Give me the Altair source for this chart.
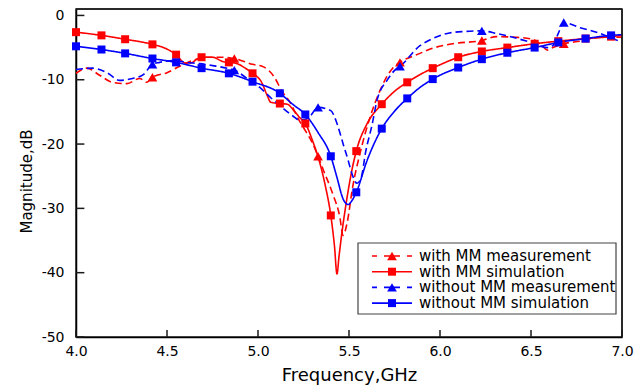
import altair as alt
import pandas as pd

SERIES = ["with MM measurement", "with MM simulation",
          "without MM measurement", "without MM simulation"]
KIND = ["meas", "sim", "meas", "sim"]
COLORS = ["#ff0000", "#ff0000", "#0000ff", "#0000ff"]
DASHES = [[7, 4], [1, 0], [7, 4], [1, 0]]

X_TICKS = [4.0, 4.5, 5.0, 5.5, 6.0, 6.5, 7.0]
Y_TICKS = [-50, -40, -30, -20, -10, 0]
X_RANGE = [4, 7]
Y_RANGE = [-50, 1]
X_TICK_LEN = 1.1    # dB  (inward tick length on the frequency axis)
Y_TICK_LEN = 0.046  # GHz (inward tick length on the magnitude axis)

# ---- traced curves (frequency GHz, magnitude dB) ----
wm_meas_x = [4.00, 4.06, 4.13, 4.20, 4.28, 4.35, 4.39, 4.42, 4.50, 4.57, 4.64, 4.72, 4.79, 4.87,
             4.97, 5.03, 5.09, 5.13, 5.18, 5.22, 5.26, 5.30, 5.33, 5.36, 5.41, 5.45, 5.467, 5.49,
             5.52, 5.56, 5.615, 5.67, 5.74, 5.78, 5.89, 5.96, 6.07, 6.23, 6.31, 6.42, 6.51, 6.56,
             6.59, 6.62, 6.68, 6.77, 6.88, 7.00]
wm_meas_y = [-9.0, -8.2, -9.3, -10.4, -10.6, -9.8, -10.4, -9.6, -8.9, -7.9, -7.0, -6.5, -6.5, -6.7,
             -7.6, -8.0, -9.6, -11.7, -13.7, -16.0, -17.9, -19.9, -21.9, -24.1, -27.7, -31.4, -34.2, -32.2,
             -26.7, -21.5, -15.9, -11.7, -8.2, -7.3, -5.9, -5.1, -4.4, -3.9, -3.3, -3.4, -3.7, -4.7,
             -5.4, -5.0, -4.4, -4.0, -3.4, -3.4]

wm_sim_x = [4.00, 4.14, 4.27, 4.42, 4.49, 4.55, 4.60, 4.63, 4.665, 4.69, 4.75, 4.81, 4.84, 4.885,
            4.93, 4.97, 5.02, 5.05, 5.07, 5.12, 5.16, 5.20, 5.23, 5.26, 5.30, 5.33, 5.37, 5.40,
            5.42, 5.434, 5.445, 5.46, 5.48, 5.50, 5.52, 5.54, 5.60, 5.68, 5.75, 5.82, 5.89, 5.96,
            6.03, 6.10, 6.23, 6.37, 6.52, 6.65, 6.80, 6.94, 7.00]
wm_sim_y = [-2.6, -3.1, -3.7, -4.5, -5.1, -6.1, -7.4, -7.4, -6.8, -6.5, -6.5, -7.2, -7.3, -7.5,
            -8.2, -9.0, -10.4, -12.4, -13.5, -13.7, -13.8, -14.9, -15.9, -16.8, -19.5, -22.0, -26.5, -31.1,
            -35.8, -40.2, -37.5, -34.0, -30.0, -26.5, -23.5, -21.1, -16.8, -13.8, -11.8, -10.4, -9.2, -8.2,
            -7.3, -6.5, -5.6, -5.0, -4.4, -4.0, -3.6, -3.3, -3.1]

wo_meas_x = [4.00, 4.09, 4.17, 4.24, 4.31, 4.37, 4.42, 4.46, 4.53, 4.61, 4.68, 4.75, 4.83, 4.87,
             4.94, 5.01, 5.07, 5.14, 5.19, 5.23, 5.275, 5.33, 5.40, 5.434, 5.467, 5.495, 5.516, 5.544,
             5.566, 5.593, 5.626, 5.654, 5.709, 5.764, 5.78, 5.89, 5.96, 6.04, 6.13, 6.23, 6.31, 6.40,
             6.50, 6.59, 6.62, 6.65, 6.68, 6.77, 6.86, 6.95, 7.00]
wo_meas_y = [-8.4, -8.2, -8.9, -10.1, -9.8, -9.2, -7.6, -7.3, -7.0, -7.3, -7.5, -7.8, -8.2, -8.5,
             -9.8, -11.2, -12.8, -14.5, -15.6, -16.3, -16.0, -14.3, -14.8, -16.8, -19.9, -22.5, -24.6, -26.1,
             -25.3, -21.0, -17.1, -13.2, -10.1, -8.2, -7.9, -4.7, -3.6, -2.8, -2.5, -2.4, -2.8, -3.4,
             -4.2, -5.0, -4.7, -2.8, -1.1, -1.9, -2.6, -3.6, -4.2]

wo_sim_x = [4.00, 4.14, 4.27, 4.42, 4.55, 4.69, 4.84, 4.97, 5.12, 5.19, 5.26, 5.33, 5.40, 5.434,
            5.467, 5.495, 5.516, 5.54, 5.60, 5.68, 5.75, 5.82, 5.89, 5.96, 6.10, 6.23, 6.37, 6.52,
            6.65, 6.80, 6.94, 7.00]
wo_sim_y = [-4.8, -5.3, -5.9, -6.7, -7.3, -8.2, -9.0, -10.3, -12.1, -13.8, -15.4, -18.2, -21.9, -25.2,
            -28.5, -29.4, -28.8, -27.5, -22.5, -17.6, -14.9, -12.9, -11.2, -9.9, -8.1, -6.8, -5.8, -5.0,
            -4.2, -3.6, -3.1, -3.0]

# ---- marker positions ----
sim_mark_x = [4.00, 4.14, 4.27, 4.42, 4.55, 4.69, 4.84, 4.97, 5.12, 5.26, 5.40, 5.54, 5.68, 5.82,
              5.96, 6.10, 6.23, 6.37, 6.52, 6.65, 6.80, 6.94]
wm_sim_mark_y = [-2.6, -3.1, -3.7, -4.5, -6.1, -6.5, -7.3, -9.0, -13.7, -16.8, -31.1, -21.1, -13.8, -10.4,
                 -8.2, -6.5, -5.6, -5.0, -4.4, -4.0, -3.6, -3.3]
wo_sim_mark_y = [-4.8, -5.3, -5.9, -6.7, -7.3, -8.2, -9.0, -10.3, -12.1, -15.4, -21.9, -27.5, -17.6, -12.9,
                 -9.9, -8.1, -6.8, -5.8, -5.0, -4.2, -3.6, -3.1]
meas_mark_x = [4.42, 4.87, 5.33, 5.78, 6.23, 6.68]
wm_meas_mark_y = [-9.6, -6.7, -21.9, -7.3, -3.9, -4.4]
wo_meas_mark_y = [-7.6, -8.5, -14.3, -7.9, -2.4, -1.1]


def frame(xs, ys, name):
    return pd.DataFrame({"f": xs, "m": ys, "series": name})


lines_df = pd.concat([
    frame(wm_meas_x, wm_meas_y, SERIES[0]),
    frame(wm_sim_x, wm_sim_y, SERIES[1]),
    frame(wo_meas_x, wo_meas_y, SERIES[2]),
    frame(wo_sim_x, wo_sim_y, SERIES[3]),
], ignore_index=True)

tri_df = pd.concat([
    frame(meas_mark_x, wm_meas_mark_y, SERIES[0]),
    frame(meas_mark_x, wo_meas_mark_y, SERIES[2]),
], ignore_index=True)

sq_df = pd.concat([
    frame(sim_mark_x, wm_sim_mark_y, SERIES[1]),
    frame(sim_mark_x, wo_sim_mark_y, SERIES[3]),
], ignore_index=True)

# guide segments (frame top/right edges and inward ticks), drawn as short lines
seg_rows = [
    {"gid": "top", "f": X_RANGE[0], "m": Y_RANGE[1], "k": "guide"},
    {"gid": "top", "f": X_RANGE[1], "m": Y_RANGE[1], "k": "guide"},
    {"gid": "right", "f": X_RANGE[1], "m": Y_RANGE[1], "k": "guide"},
    {"gid": "right", "f": X_RANGE[1], "m": Y_RANGE[0], "k": "guide"},
]
for t in X_TICKS:
    seg_rows.append({"gid": f"x{t}", "f": t, "m": Y_RANGE[0], "k": "guide"})
    seg_rows.append({"gid": f"x{t}", "f": t, "m": Y_RANGE[0] + X_TICK_LEN, "k": "guide"})
for t in Y_TICKS:
    seg_rows.append({"gid": f"y{t}", "f": X_RANGE[0], "m": t, "k": "guide"})
    seg_rows.append({"gid": f"y{t}", "f": X_RANGE[0] + Y_TICK_LEN, "m": t, "k": "guide"})
seg_df = pd.DataFrame(seg_rows)

leg_df = pd.DataFrame({"series": SERIES, "kind": KIND, "row": [0, 1, 2, 3]})
one_df = pd.DataFrame({"k": [0]})

FONT = "DejaVu Sans"

xscale = alt.Scale(domain=X_RANGE, nice=False, zero=False)
yscale = alt.Scale(domain=Y_RANGE, nice=False, zero=False)
cscale = alt.Scale(domain=SERIES, range=COLORS)
dscale = alt.Scale(domain=SERIES, range=DASHES)

x_main = alt.X("f:Q", scale=xscale, axis=alt.Axis(
    values=X_TICKS, format=".1f", ticks=False, grid=False, labelFlush=False,
    domainColor="black", domainWidth=1.5, labelPadding=7,
    labelFont=FONT, labelFontSize=14, labelColor="black",
    title="Frequency,GHz", titleFont=FONT, titleFontSize=18, titleFontWeight="normal",
    titleColor="black", titleBaseline="alphabetic", titleY=43, titleX=273))
y_main = alt.Y("m:Q", scale=yscale, axis=alt.Axis(
    values=Y_TICKS, labelExpr="'' + datum.value", ticks=False, grid=False, labelFlush=False,
    domainColor="black", domainWidth=1.5, labelPadding=12,
    labelFont=FONT, labelFontSize=14, labelColor="black",
    title="Magnitude,dB", titleFont=FONT, titleFontSize=15, titleFontWeight="normal",
    titleColor="black", titleBaseline="alphabetic", titleX=-45, titleY=172, titleAngle=270,
    titleAlign="center"))

x_plain = alt.X("f:Q", scale=xscale, axis=None)
y_plain = alt.Y("m:Q", scale=yscale, axis=None)

guides = alt.Chart(seg_df).mark_line(strokeWidth=1.5).encode(
    x=x_plain, y=y_plain, detail="gid:N",
    stroke=alt.Stroke("k:N", scale=alt.Scale(domain=["guide"], range=["#1a1a1a"]), legend=None),
)

lines = alt.Chart(lines_df).mark_line(interpolate="monotone", strokeWidth=1.6).encode(
    x=x_main, y=y_main,
    color=alt.Color("series:N", scale=cscale, legend=None),
    strokeDash=alt.StrokeDash("series:N", scale=dscale, legend=None),
    detail="series:N",
)

tris = alt.Chart(tri_df).mark_point(shape="triangle-up", filled=True, size=95, opacity=1).encode(
    x=x_plain, y=y_plain,
    color=alt.Color("series:N", scale=cscale, legend=None),
)

squares = alt.Chart(sq_df).mark_point(shape="square", filled=True, size=64, opacity=1).encode(
    x=x_plain, y=y_plain,
    color=alt.Color("series:N", scale=cscale, legend=None),
)

# ---- legend box (drawn as marks) ----
ROW_Y = "247 + datum.row * 15.7"
leg_y = alt.Y("py:Q", scale=None, axis=None)

box = alt.Chart(one_df).mark_rect(fill="white", stroke="#444", strokeWidth=1.2).encode(
    x=alt.value(282), x2=alt.value(540), y=alt.value(234), y2=alt.value(305),
)

leg_base = alt.Chart(leg_df).transform_calculate(py=ROW_Y)

leg_meas_line = leg_base.transform_filter("datum.kind == 'meas'").mark_rule(
    strokeWidth=1.6, strokeDash=[5, 7, 16, 7]
).encode(
    x=alt.value(296), x2=alt.value(336), y=leg_y,
    color=alt.Color("series:N", scale=cscale, legend=None),
)
leg_sim_line = leg_base.transform_filter("datum.kind == 'sim'").mark_rule(strokeWidth=1.6).encode(
    x=alt.value(296), x2=alt.value(336), y=leg_y,
    color=alt.Color("series:N", scale=cscale, legend=None),
)
leg_tri = leg_base.transform_filter("datum.kind == 'meas'").mark_point(
    shape="triangle-up", filled=True, size=95, opacity=1
).encode(
    x=alt.value(316), y=leg_y,
    color=alt.Color("series:N", scale=cscale, legend=None),
)
leg_sq = leg_base.transform_filter("datum.kind == 'sim'").mark_point(
    shape="square", filled=True, size=64, opacity=1
).encode(
    x=alt.value(316), y=leg_y,
    color=alt.Color("series:N", scale=cscale, legend=None),
)
leg_text = leg_base.mark_text(
    align="left", baseline="middle", font=FONT, fontSize=15, color="black"
).encode(
    x=alt.value(343), y=leg_y, text="series:N",
)

chart = alt.layer(
    lines, guides, tris, squares,
    box, leg_meas_line, leg_sim_line, leg_tri, leg_sq, leg_text,
).resolve_axis(
    x="independent", y="independent"
).properties(
    width=546, height=328,
    autosize=alt.AutoSizeParams(type="none"),
    padding={"left": 76, "top": 9, "right": 17, "bottom": 54},
).configure(
    background="white"
).configure_view(
    stroke="#222", strokeWidth=1.5
)

chart.save("out.html", embed_options={"renderer": "svg", "actions": False})
